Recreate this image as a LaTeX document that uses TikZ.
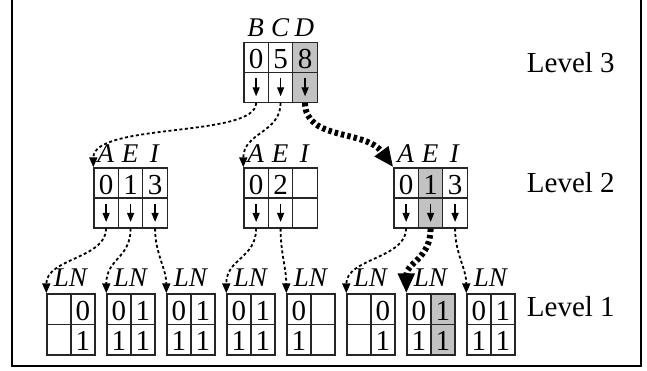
\documentclass[tikz,border=0pt]{standalone}
\usepackage{fontspec}
\setmainfont{Liberation Serif}
\usetikzlibrary{arrows.meta,calc}

\newcommand\digitsize{\fontsize{29}{34}\selectfont}
\newcommand\tagsize{\fontsize{27}{32}\selectfont\itshape}
\def\triw{24.47}

% three-slot index node: name, left x, top y, key digits, pointer count, key letters
\newcommand\tribox[6]{%
  \foreach \d [count=\i] in {#4} {
    \node[cell, minimum width=\triw pt] (#1-k\i) at ({#2+(\i-1)*\triw},#3) {\d};
    \node[cell, minimum width=\triw pt] (#1-p\i) at ({#2+(\i-1)*\triw},{#3+30}) {};
  }
  \foreach \l [count=\i] in {#6}
    \node[tag] (#1-t\i) at ({#2+(\i-0.5)*\triw},{#3-5}) {\l};
  \foreach \i in {1,...,#5}
    \draw[ptr] ($(#1-p\i.center)+(0,-9)$) -- ($(#1-p\i.center)+(0,9)$);
}

% two-slot leaf node: name, left x, top-row digits, bottom-row digits
\newcommand\pairbox[4]{%
  \foreach \d [count=\i] in {#3}
    \node[cell, minimum width=24pt, minimum height=30.5pt] (#1-t\i) at ({#2+(\i-1)*24},293.3) {\d};
  \foreach \d [count=\i] in {#4}
    \node[cell, minimum width=24pt, minimum height=30.5pt] (#1-b\i) at ({#2+(\i-1)*24},323.8) {\d};
  \node[tag] (#1-lbl) at ({#2+24},286) {LN};
}

% curved connector: style, from, to, offset of first control, offset of second control
\newcommand\link[5]{%
  \draw[#1] (#2) .. controls ($(#2)+(#4)$) and ($(#3)+(#5)$) .. (#3);
}

\begin{document}
\begin{tikzpicture}[x=1pt,y=-1pt,
  cell/.style={draw=black!85, line width=1.2pt, minimum height=30pt, inner sep=0pt,
    anchor=north west, text height=22.5pt, text depth=0pt, font=\digitsize},
  shade/.style={fill=black!24},
  tag/.style={anchor=base, inner sep=0pt, font=\tagsize},
  ptr/.style={line width=1.3pt, -{Triangle[length=9pt,width=7pt]}},
  conn/.style={line width=1.8pt, dash pattern=on 3pt off 2.5pt,
    -{Triangle[length=10pt,width=8pt]}},
  hot/.style={line width=6pt, dash pattern=on 3.5pt off 3pt,
    -{Triangle[length=20pt,width=16pt]}},
  lvl/.style={anchor=base west, inner sep=0pt, font=\digitsize},
  frame/.style={line width=2.4pt}
]
\useasboundingbox (0,0) rectangle (647,370);
\draw[frame] (11.8,0) -- (11.8,365.8) -- (640.8,365.8) -- (640.8,0);

% highlighted search path
\fill[shade] ({243.3+2*\triw},41.7) rectangle +(\triw,60);
\fill[shade] ({393.3+\triw},167.3) rectangle +(\triw,60);
\fill[shade] (430.3,293.3) rectangle +(24,61);

% level 3
\tribox{r}{243.3}{41.7}{0,5,8}{3}{B,C,D}
% level 2
\tribox{ia}{93.3}{167.3}{0,1,3}{3}{A,E,I}
\tribox{ib}{243.3}{167.3}{0,2,{}}{2}{A,E,I}
\tribox{ic}{393.3}{167.3}{0,1,3}{3}{A,E,I}
% level 1
\pairbox{la}{46.3}{{},0}{{},1}
\pairbox{lb}{106.3}{0,1}{1,1}
\pairbox{lc}{166.3}{0,1}{1,1}
\pairbox{ld}{226.3}{0,1}{1,1}
\pairbox{le}{286.3}{0,{}}{1,{}}
\pairbox{lf}{346.3}{{},0}{{},1}
\pairbox{lg}{406.3}{0,1}{1,1}
\pairbox{lh}{466.3}{0,1}{1,1}

\node[lvl] (lvl3) at (526.7,72.3) {Level 3};
\node[lvl] (lvl2) at (526.7,192.3) {Level 2};
\node[lvl] (lvl1) at (526.7,316.7) {Level 1};

% pointers from level 3
\link{conn}{r-p1.south}{ia-k1.north west}{0,35}{0,-45}
\link{conn}{r-p2.south}{ib-k1.north west}{0,30}{0,-35}
\link{hot}{r-p3.south}{ic-k1.north west}{0,38}{-28,-38}
% pointers from level 2
\link{conn}{ia-p1.south}{la-t1.north west}{0,30}{0,-35}
\link{conn}{ia-p2.south}{lb-t1.north west}{0,30}{0,-35}
\link{conn}{ia-p3.south}{lc-t1.north west}{0,25}{0,-25}
\link{conn}{ib-p1.south}{ld-t1.north west}{0,30}{0,-35}
\link{conn}{ib-p2.south}{le-t1.north west}{0,25}{0,-25}
\link{conn}{ic-p1.south}{lf-t1.north west}{0,30}{0,-35}
\link{hot}{ic-p2.south}{lg-t1.north west}{0,30}{0,-30}
\link{conn}{ic-p3.south}{lh-t1.north west}{0,25}{0,-25}
\end{tikzpicture}
\end{document}
